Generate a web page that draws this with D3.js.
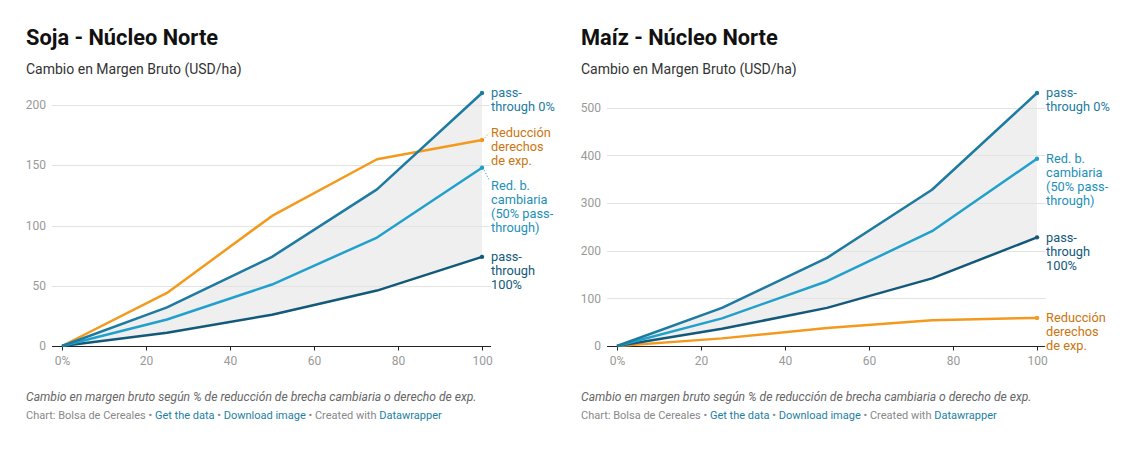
<!DOCTYPE html>
<html>
<head>
<meta charset="utf-8">
<script src="https://cdn.jsdelivr.net/npm/d3@7"></script>
<style>
  html, body { margin: 0; padding: 0; background: #fff; }
  svg { display: block; font-family: Roboto, "Noto Sans", sans-serif; }
</style>
</head>
<body>
<svg id="chart" width="1123" height="452"></svg>
<script>
// ---- DATA ----
const xValues = [0, 25, 50, 75, 100];
const xTicks = [0, 20, 40, 60, 80, 100];
const xTickLabels = ["0%", "20", "40", "60", "80", "100"];

const sojaYTicks = [0, 50, 100, 150, 200];
const sojaPassThrough0 = [0, 32, 74, 130, 210];
const sojaReduccionDerechos = [0, 44, 108, 155, 171];
const sojaRedCambiaria = [0, 22, 51, 90, 148];
const sojaPassThrough100 = [0, 11, 26, 46, 74];

const maizYTicks = [0, 100, 200, 300, 400, 500];
const maizPassThrough0 = [0, 80, 185, 328, 531];
const maizRedCambiaria = [0, 58, 136, 241, 393];
const maizPassThrough100 = [0, 36, 80, 142, 228];
const maizReduccionDerechos = [0, 16, 38, 54, 59];

const labelPT0 = ["pass-", "through 0%"];
const labelRDE = ["Reducción", "derechos", "de exp."];
const labelRBC = ["Red. b.", "cambiaria", "(50% pass-", "through)"];
const labelPT100 = ["pass-", "through", "100%"];

const titles = ["Soja - Núcleo Norte", "Maíz - Núcleo Norte"];
const subtitle = "Cambio en Margen Bruto (USD/ha)";
const note = "Cambio en margen bruto según % de reducción de brecha cambiaria o derecho de exp.";

// ---- STYLE ----
const colors = {
  pt0: "#1d7aa0", rbc: "#22a0cc", pt100: "#12597a", rde: "#f39a1e"
};
const textColors = {
  pt0: "#1d7aa0", rbc: "#1e8fb8", pt100: "#12597a", rde: "#cc7410"
};

const svg = d3.select("#chart");

function drawChart(offsetX, title, yMax, yTicks, series, labelShift) {
  const g = svg.append("g").attr("transform", `translate(${offsetX},0)`);
  const x = d3.scaleLinear().domain([0, 100]).range([62, 482]);
  const y = d3.scaleLinear().domain([0, yMax]).range([346, 93]);

  g.append("text").attr("x", 26).attr("y", 45)
    .attr("font-size", 21.8).attr("font-weight", 700).attr("fill", "#111")
    .text(title);
  g.append("text").attr("x", 26).attr("y", 74)
    .attr("font-size", 14).attr("fill", "#333").text(subtitle);

  // area between pass-through 0% and 100%
  const top = series.find(s => s.key === "pt0").values;
  const bot = series.find(s => s.key === "pt100").values;
  const area = d3.area()
    .x((d, i) => x(xValues[i]))
    .y0((d, i) => y(bot[i]))
    .y1((d, i) => y(top[i]));
  g.append("path").datum(top).attr("d", area).attr("fill", "#efefef");

  // grid
  const x0 = x(0) - 10, x1 = x(100) + 9;
  yTicks.forEach(t => {
    if (t !== 0) {
      g.append("line").attr("x1", x0).attr("x2", x1)
        .attr("y1", Math.round(y(t)) + 0.5).attr("y2", Math.round(y(t)) + 0.5)
        .attr("stroke", "#e3e3e3").attr("stroke-width", 1);
    }
    g.append("text").attr("x", x(0) - 16).attr("y", y(t))
      .attr("dy", "0.35em").attr("text-anchor", "end")
      .attr("font-size", 12).attr("fill", "#999").text(t);
  });

  // x axis
  const xAxis = d3.axisBottom(x).tickValues(xTicks)
    .tickFormat((d, i) => xTickLabels[i]).tickSize(4).tickPadding(6).tickSizeOuter(0);
  const ax = g.append("g").attr("transform", `translate(0,${Math.round(y(0)) + 0.5})`).call(xAxis);
  ax.select(".domain").attr("d", `M${x0},0H${x1}`).attr("stroke", "#222");
  ax.selectAll(".tick line").attr("stroke", "#222");
  ax.selectAll(".tick text").attr("font-size", 12).attr("fill", "#999")
    .attr("font-family", "Roboto, sans-serif");

  // lines
  const line = d3.line().x((d, i) => x(xValues[i])).y(d => y(d));
  series.forEach(s => {
    g.append("path").datum(s.values).attr("d", line)
      .attr("fill", "none").attr("stroke", colors[s.key])
      .attr("stroke-width", 2.5).attr("stroke-linejoin", "round");
    const last = s.values[s.values.length - 1];
    g.append("circle").attr("cx", x(100)).attr("cy", y(last)).attr("r", 2.2)
      .attr("fill", colors[s.key]);
  });

  // labels
  series.forEach(s => {
    const last = s.values[s.values.length - 1];
    const ey = y(last);
    const shift = labelShift[s.key] || 0;
    const ly = ey + shift;
    const lx = x(100) + 9;
    if (Math.abs(shift) > 2) {
      g.append("line").attr("x1", x(100) + 1).attr("y1", ey)
        .attr("x2", lx - 2).attr("y2", ly + (shift > 0 ? -6 : 0))
        .attr("stroke", textColors[s.key]).attr("stroke-width", 1)
        .attr("stroke-dasharray", "1,2");
    }
    const t = g.append("text").attr("x", lx).attr("y", ly)
      .attr("font-size", 12.8).attr("fill", textColors[s.key])
      .attr("stroke", "#fff").attr("stroke-width", 3).attr("paint-order", "stroke");
    s.label.forEach((ln, i) => {
      t.append("tspan").attr("x", lx).attr("dy", i === 0 ? "0.35em" : 14).text(ln);
    });
  });

  // footer
  g.append("text").attr("x", 26).attr("y", 401)
    .attr("font-size", 12.1).attr("font-style", "italic").attr("fill", "#666").text(note);
  const f = g.append("text").attr("x", 26).attr("y", 419).attr("font-size", 11).attr("fill", "#888");
  f.append("tspan").text("Chart: Bolsa de Cereales • ");
  f.append("tspan").attr("fill", "#1d81a2").text("Get the data");
  f.append("tspan").text(" • ");
  f.append("tspan").attr("fill", "#1d81a2").text("Download image");
  f.append("tspan").text(" • Created with ");
  f.append("tspan").attr("fill", "#1d81a2").text("Datawrapper");
}

drawChart(0, titles[0], 210, sojaYTicks, [
  { key: "rde", values: sojaReduccionDerechos, label: labelRDE },
  { key: "pt100", values: sojaPassThrough100, label: labelPT100 },
  { key: "rbc", values: sojaRedCambiaria, label: labelRBC },
  { key: "pt0", values: sojaPassThrough0, label: labelPT0 }
], { rde: -7, rbc: 18 });

drawChart(555, titles[1], 531, maizYTicks, [
  { key: "rde", values: maizReduccionDerechos, label: labelRDE },
  { key: "pt100", values: maizPassThrough100, label: labelPT100 },
  { key: "rbc", values: maizRedCambiaria, label: labelRBC },
  { key: "pt0", values: maizPassThrough0, label: labelPT0 }
], {});
</script>
</body>
</html>
